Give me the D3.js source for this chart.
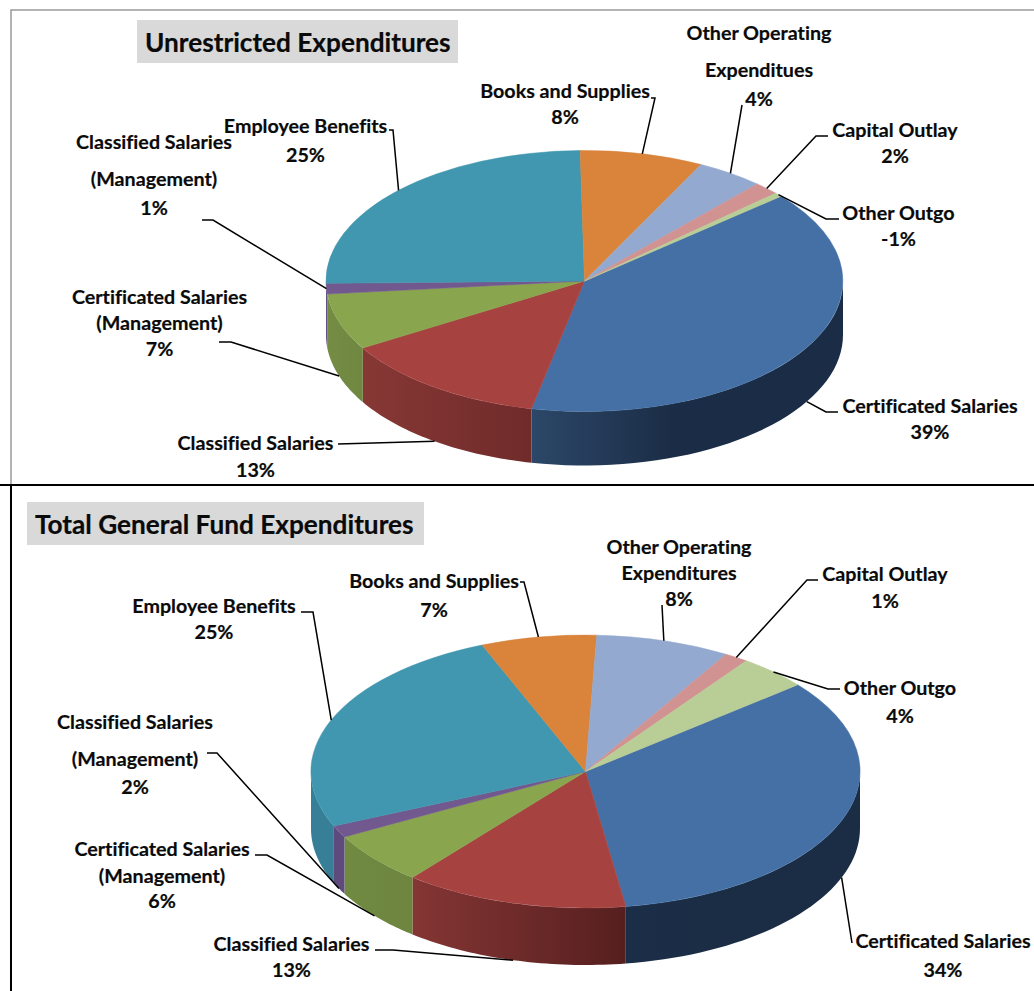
<!DOCTYPE html>
<html>
<head>
<meta charset="utf-8">
<script src="https://cdn.jsdelivr.net/npm/d3@7"></script>
<style>
  body { margin: 0; background: #fff; }
  svg { display: block; }
  text { font-family: Lato, "Open Sans", sans-serif; font-weight: 700; fill: #0a0a0a; stroke: #0a0a0a; stroke-width: 0.2; font-variant-ligatures: none; }
</style>
</head>
<body>
<div id="chart"></div>
<script>
// Slice names, in drawing order (clockwise from the first slice angle).
const categories = [
  "Certificated Salaries",
  "Classified Salaries",
  "Certificated Salaries (Management)",
  "Classified Salaries (Management)",
  "Employee Benefits",
  "Books and Supplies",
  "Other Operating Expenditures",
  "Capital Outlay",
  "Other Outgo"
];

const unrestrictedShares = [39.5, 13.1, 7.0, 1.3, 25.0, 7.7, 4.2, 1.6, 0.5];
const unrestrictedLabels = ["39%", "13%", "7%", "1%", "25%", "8%", "4%", "2%", "-1%"];
const totalShares = [33.6, 13.2, 6.2, 1.4, 25.4, 6.8, 7.9, 1.4, 4.1];
const totalLabels = ["34%", "13%", "6%", "2%", "25%", "7%", "8%", "1%", "4%"];

// Name lines for the labels (the wrapping differs a little between the two charts).
const unrestrictedNames = [
  ["Certificated Salaries"],
  ["Classified Salaries"],
  ["Certificated Salaries", "(Management)"],
  ["Classified Salaries", "(Management)"],
  ["Employee Benefits"],
  ["Books and Supplies"],
  ["Other Operating", "Expenditues"],
  ["Capital Outlay"],
  ["Other Outgo"]
];
const totalNames = [
  ["Certificated Salaries"],
  ["Classified Salaries"],
  ["Certificated Salaries", "(Management)"],
  ["Classified Salaries", "(Management)"],
  ["Employee Benefits"],
  ["Books and Supplies"],
  ["Other Operating", "Expenditures"],
  ["Capital Outlay"],
  ["Other Outgo"]
];

const colors = ["#4570a5", "#a64341", "#89a54e", "#71588f", "#4197af", "#d9833b", "#93a9cf", "#d19392", "#b9cd96"];

// Layout of each chart: ellipse, title box, and for every label its centre x,
// line baselines, and the leader's tail / elbow.
const layouts = [
  {
    title: "Unrestricted Expenditures",
    box: [137, 20, 321, 43], titleX: 145, titleY: 51.5,
    cx: 584.5, cy: 281, rx: 258.5, ry: 130.5, depth: 54, startDeg: 49.5,
    shares: unrestrictedShares, percents: unrestrictedLabels, names: unrestrictedNames,
    wall: [["#2c4769", "#1b2d46"], ["#873835", "#6f2b2a"], ["#748c44", "#6f8740"], ["#5f4a7e", "#5f4a7e"], ["#367f96", "#367f96"]],
    labels: [
      { x: 930, lines: [413, 439], tail: [838, 412], elbow: [826, 412] },
      { x: 255.5, lines: [450, 477], tail: [338, 444], elbow: [338, 444] },
      { x: 159.5, lines: [304, 330, 356], tail: [219, 342], elbow: [231, 342] },
      { x: 154, lines: [149, 186, 215], tail: [202, 220], elbow: [213, 220], topRim: true },
      { x: 305.5, lines: [133, 162], tail: [389, 130], elbow: [393, 130] },
      { x: 565, lines: [98, 124], tail: [651, 98], elbow: [655, 98] },
      { x: 759, lines: [40, 77, 106], tail: [742, 105], elbow: [742, 105] },
      { x: 895, lines: [137, 163], tail: [828, 136], elbow: [816, 136] },
      { x: 898.5, lines: [220, 246], tail: [839, 219], elbow: [826, 219] }
    ]
  },
  {
    title: "Total General Fund Expenditures",
    box: [27, 502, 397, 43], titleX: 35, titleY: 533.5,
    cx: 585.5, cy: 771.5, rx: 274.5, ry: 136.5, depth: 57, startDeg: 50.6,
    shares: totalShares, percents: totalLabels, names: totalNames,
    wall: [["#1b2e47", "#1b2d45"], ["#843634", "#561f1f"], ["#718a42", "#6d853f"], ["#5f4a7e", "#5f4a7e"], ["#367f96", "#367f96"]],
    labels: [
      { x: 943, lines: [948, 977], tail: [852, 943], elbow: [852, 943] },
      { x: 291.5, lines: [951, 977], tail: [375, 950], elbow: [393, 950] },
      { x: 162, lines: [856, 883, 908], tail: [255, 855], elbow: [267, 855] },
      { x: 135, lines: [729, 766, 794], tail: [207, 753], elbow: [217, 753] },
      { x: 214, lines: [613, 639], tail: [301, 612], elbow: [313, 612] },
      { x: 434, lines: [588, 617], tail: [520, 582], elbow: [524, 582] },
      { x: 679, lines: [554, 580, 606], tail: [662, 605], elbow: [662, 605] },
      { x: 885, lines: [581, 608], tail: [818, 580], elbow: [807, 580] },
      { x: 900, lines: [695, 723], tail: [840, 689], elbow: [828, 689] }
    ]
  }
];

const width = 1034;
const height = 991;

const svg = d3.select("#chart").append("svg")
  .attr("width", width)
  .attr("height", height)
  .attr("viewBox", [0, 0, width, height]);

const defs = svg.append("defs");

// Panel frame: grey round the first chart, black below it.
const frame = svg.append("g").attr("fill", "none");
frame.append("path").attr("d", "M1034,10H11V484").attr("stroke", "#9a9a9a").attr("stroke-width", 1.5);
frame.append("path").attr("d", "M0,485H1034M11,485V991").attr("stroke", "#000").attr("stroke-width", 2);

const HALF_PI = Math.PI / 2;

layouts.forEach((chart, chartIndex) => {
  const g = svg.append("g");

  // Unit-circle scales: everything on the pie is placed through these.
  const x = d3.scaleLinear().domain([-1, 1]).range([chart.cx - chart.rx, chart.cx + chart.rx]);
  const y = d3.scaleLinear().domain([-1, 1]).range([chart.cy - chart.ry, chart.cy + chart.ry]);
  const drop = d3.scaleLinear().domain([0, 1]).range([0, chart.depth]);

  const start = chart.startDeg * Math.PI / 180;
  const arcs = d3.pie().sort(null).startAngle(start).endAngle(start + 2 * Math.PI)(chart.shares);

  const rimX = a => x(Math.sin(a));
  const rimY = (a, z) => y(-Math.cos(a)) + drop(z);

  // Title box.
  g.append("rect")
    .attr("x", chart.box[0]).attr("y", chart.box[1])
    .attr("width", chart.box[2]).attr("height", chart.box[3])
    .attr("fill", "#d9d9d9");
  g.append("text")
    .attr("x", chart.titleX).attr("y", chart.titleY)
    .attr("font-size", 26.2)
    .text(chart.title);

  // Side walls: only the part of a slice facing the viewer (90deg to 270deg).
  const wallLine = d3.line().x(d => rimX(d[0])).y(d => rimY(d[0], d[1]));
  arcs.forEach((d, i) => {
    const a0 = Math.max(d.startAngle, HALF_PI);
    const a1 = Math.min(d.endAngle, 3 * HALF_PI);
    if (a1 <= a0) return;
    const n = 40;
    const steps = d3.range(n + 1).map(k => a0 + (a1 - a0) * k / n);
    const points = steps.map(a => [a, 0]).concat(steps.slice().reverse().map(a => [a, 1]));

    const shade = chart.wall[i];
    const id = `wall-${chartIndex}-${i}`;
    const grad = defs.append("linearGradient").attr("id", id)
      .attr("x1", "0%").attr("x2", "100%").attr("y1", "0%").attr("y2", "0%");
    grad.append("stop").attr("offset", "0%").attr("stop-color", shade[0]);
    grad.append("stop").attr("offset", i === 0 ? "45%" : "100%").attr("stop-color", shade[1]);

    g.append("path")
      .attr("d", wallLine(points) + "Z")
      .attr("fill", `url(#${id})`);
  });

  // Top face, as a unit pie squashed onto the ellipse.
  const arc = d3.arc().innerRadius(0).outerRadius(1);
  g.append("g")
    .attr("transform", `translate(${chart.cx},${chart.cy}) scale(${chart.rx},${chart.ry})`)
    .selectAll("path")
    .data(arcs)
    .join("path")
    .attr("d", arc)
    .attr("fill", (d, i) => colors[i])
    .attr("stroke", (d, i) => colors[i])
    .attr("stroke-width", 0.5)
    .attr("vector-effect", "non-scaling-stroke")
    .append("title")
    .text((d, i) => categories[i]);

  // Leader lines run to the slice's mid angle on the visible rim.
  const leader = d3.line();
  g.append("g")
    .attr("fill", "none")
    .attr("stroke", "#000")
    .attr("stroke-width", 1.5)
    .selectAll("path")
    .data(arcs)
    .join("path")
    .attr("d", (d, i) => {
      const mid = (d.startAngle + d.endAngle) / 2;
      const label = chart.labels[i];
      const front = mid > HALF_PI && mid < 3 * HALF_PI && !label.topRim;
      return leader([label.tail, label.elbow, [rimX(mid), rimY(mid, front ? 1 : 0)]]);
    });

  // Label text: name lines, then the percentage.
  const labels = g.append("g").attr("text-anchor", "middle").attr("font-size", 19.7);
  chart.labels.forEach((label, i) => {
    const lines = chart.names[i].concat(chart.percents[i]);
    lines.forEach((line, k) => {
      labels.append("text")
        .attr("x", label.x)
        .attr("y", label.lines[k])
        .text(line);
    });
  });
});
</script>
</body>
</html>
